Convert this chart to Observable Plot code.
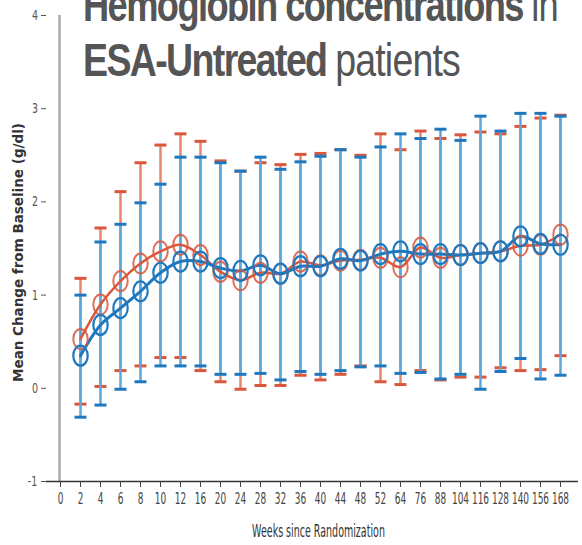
<!DOCTYPE html>
<html>
<head>
<meta charset="utf-8">
<script src="https://cdn.jsdelivr.net/npm/d3@7"></script>
<script src="https://cdn.jsdelivr.net/npm/@observablehq/plot@0.6"></script>
<style>
  html, body { margin: 0; padding: 0; background: #fff; }
  #wrap { position: relative; width: 582px; height: 545px; overflow: hidden; }
  .tline {
    position: absolute; left: 83px;
    font-family: "Liberation Sans", Arial, sans-serif;
    font-size: 46px; line-height: 46px; color: #555; letter-spacing: -2px;
    white-space: nowrap; transform-origin: 0 0;
  }
  .tline b { font-weight: bold; }
  .tline span { font-weight: normal; letter-spacing: -1px; }
</style>
</head>
<body>
<div id="wrap">
  <div id="chart"></div>
  <div class="tline" id="t1" data-w="475" style="top:-18px"><b>Hemoglobin concentrations</b> <span>in</span></div>
  <div class="tline" id="t2" data-w="377" style="top:37px"><b>ESA-Untreated</b> <span>patients</span></div>
</div>
<script>
const tickLabels = ["0","2","4","6","8","10","12","16","20","24","28","32","36","40","44","48","52","64","76","88","104","116","128","140","156","168"];
const weeks = ["2","4","6","8","10","12","16","20","24","28","32","36","40","44","48","52","64","76","88","104","116","128","140","156","168"];

const redMean  = [0.53,0.90,1.15,1.34,1.47,1.54,1.43,1.25,1.16,1.24,1.23,1.36,1.32,1.37,1.38,1.40,1.30,1.51,1.40,1.43,1.45,1.47,1.53,1.54,1.65];
const redUpper = [1.18,1.72,2.11,2.42,2.61,2.73,2.65,2.44,2.33,2.42,2.40,2.51,2.52,2.56,2.50,2.73,2.56,2.76,2.68,2.72,2.75,2.73,2.81,2.90,2.93];
const redLower = [-0.17,0.02,0.19,0.24,0.33,0.33,0.19,0.07,-0.01,0.03,0.03,0.14,0.09,0.15,0.24,0.07,0.04,0.19,0.09,0.12,0.12,0.22,0.19,0.20,0.35];

const blueMean  = [0.35,0.68,0.86,1.04,1.24,1.36,1.36,1.29,1.26,1.32,1.23,1.31,1.31,1.39,1.37,1.44,1.47,1.44,1.44,1.43,1.45,1.47,1.63,1.55,1.54];
const blueUpper = [1.00,1.57,1.76,1.99,2.19,2.48,2.48,2.42,2.33,2.48,2.35,2.43,2.49,2.56,2.48,2.59,2.73,2.68,2.78,2.66,2.92,2.76,2.95,2.95,2.92];
const blueLower = [-0.31,-0.18,-0.01,0.07,0.24,0.24,0.24,0.15,0.15,0.16,0.09,0.18,0.15,0.19,0.23,0.24,0.16,0.17,0.10,0.15,-0.01,0.18,0.32,0.10,0.14];

const yTicks = [-1,0,1,2,3,4];

const RED = "#d9573c", RED_LIGHT = "#e5876f";
const BLUE = "#1e78bf", BLUE_LIGHT = "#5ca8dc";

const red = weeks.map((w,i) => ({week:w, mean:redMean[i], hi:redUpper[i], lo:redLower[i]}));
const blue = weeks.map((w,i) => ({week:w, mean:blueMean[i], hi:blueUpper[i], lo:blueLower[i]}));

const ellipse = {
  draw(ctx, size) {
    const r = Math.sqrt(size / Math.PI);
    const rx = r * 0.72, ry = r, k = 0.5523;
    ctx.moveTo(rx, 0);
    ctx.bezierCurveTo(rx, ry*k, rx*k, ry, 0, ry);
    ctx.bezierCurveTo(-rx*k, ry, -rx, ry*k, -rx, 0);
    ctx.bezierCurveTo(-rx, -ry*k, -rx*k, -ry, 0, -ry);
    ctx.bezierCurveTo(rx*k, -ry, rx, -ry*k, rx, 0);
    ctx.closePath();
  }
};
const cap = {
  draw(ctx, size) {
    const r = Math.sqrt(size / Math.PI);
    ctx.moveTo(-r, 0);
    ctx.lineTo(r, 0);
  }
};

function series(data, light, dark) {
  return [
    Plot.ruleX(data, {x:"week", y1:"lo", y2:"hi", stroke: light, strokeWidth: 2.5}),
    Plot.dot(data, {x:"week", y:"hi", symbol: cap, r: 6, stroke: dark, strokeWidth: 3}),
    Plot.dot(data, {x:"week", y:"lo", symbol: cap, r: 6, stroke: dark, strokeWidth: 3})
  ];
}

const chart = Plot.plot({
  width: 582,
  height: 545,
  marginLeft: 46,
  marginRight: 4,
  marginTop: 15,
  marginBottom: 64,
  style: {fontFamily: "'DejaVu Sans', sans-serif", background: "#fff"},
  x: {type: "point", domain: tickLabels, range: [47, 572]},
  y: {domain: [-1, 4], range: [481, 15]},
  marks: [
    ...series(red, RED_LIGHT, RED),
    ...series(blue, BLUE_LIGHT, BLUE),
    Plot.line(red, {x:"week", y:"mean", stroke: RED, strokeWidth: 2.5, curve: "catmull-rom"}),
    Plot.line(blue, {x:"week", y:"mean", stroke: BLUE, strokeWidth: 3, curve: "catmull-rom"}),
    Plot.dot(red, {x:"week", y:"mean", symbol: ellipse, r: 10, stroke: RED, strokeWidth: 2, strokeOpacity: 0.85}),
    Plot.dot(blue, {x:"week", y:"mean", symbol: ellipse, r: 10, stroke: BLUE, strokeWidth: 2.2}),
    Plot.ruleX(["0"], {x: d => d, dx: -1, stroke: "#aaa", strokeWidth: 2.5}),
    Plot.ruleY([-1], {stroke: "#333", strokeWidth: 1.5}),
    Plot.axisY({ticks: yTicks, tickFormat: d => String(d), tickSize: 5, tickPadding: 2, fontSize: 14, color: "#555", label: null, className: "ytk"}),
    Plot.axisX({tickSize: 6, tickPadding: 5, fontSize: 16, color: "#444", label: null, className: "xtk"}),
    Plot.text(["Mean Change from Baseline (g/dl)"], {frameAnchor: "left", textAnchor: "middle", rotate: -90, dx: -28, dy: 4, fontSize: 13.5, fontWeight: "bold", fill: "#333", style: "letter-spacing:2.8px"}),
    Plot.text(["Weeks since Randomization"], {frameAnchor: "bottom", dy: 55, dx: 6, fontSize: 17, fill: "#333", className: "xlab"})
  ]
});
document.getElementById("chart").appendChild(chart);

// condense text horizontally (narrow fonts are not installed)
function condense(sel, s) {
  chart.querySelectorAll(sel).forEach(el => {
    const b = el.getBBox();
    const cx = b.x + b.width / 2;
    const t = el.getAttribute("transform") || "";
    el.setAttribute("transform", `${t} translate(${cx},0) scale(${s},1) translate(${-cx},0)`);
  });
}
condense(".xtk text", 0.56);
condense(".ytk text", 0.68);
condense(".xlab text", 0.56);

document.querySelectorAll(".tline").forEach(el => {
  const w = el.getBoundingClientRect().width;
  const target = +el.dataset.w;
  el.style.transform = `scaleX(${target / w})`;
});
</script>
</body>
</html>
